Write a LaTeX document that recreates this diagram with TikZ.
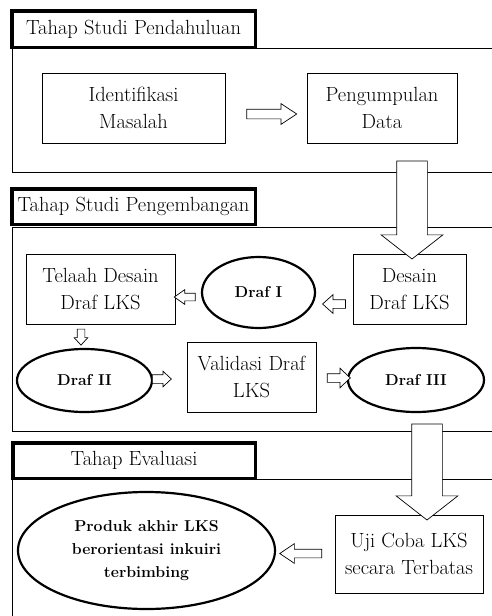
\documentclass[tikz,border=0pt]{standalone}
\usetikzlibrary{shapes.geometric,shapes.arrows}

\begin{document}
\begin{tikzpicture}[x=1pt,y=-1pt,
  frame/.style={line width=0.8pt},
  titlebox/.style={draw, fill=white, line width=3.5pt, inner sep=0pt,
    font=\fontsize{20.5}{27}\selectfont},
  box/.style={draw, fill=white, line width=0.8pt, inner sep=0pt, align=center,
    font=\fontsize{20.5}{27}\selectfont},
  oval/.style={ellipse, draw, fill=white, line width=2.2pt, inner sep=0pt, align=center,
    font=\fontsize{15.8}{23}\selectfont\bfseries},
  hollow/.style={single arrow, draw, fill=white, line width=0.7pt}]
\useasboundingbox (0,0) rectangle (492,616);

% the three frames
\draw[frame] (500,48) -- (12,48) -- (12,172) -- (500,172);
\draw[frame] (500,227) -- (12,227) -- (12,431) -- (500,431);
\draw[frame] (500,479) -- (12,479) -- (12,630);

\node[titlebox, minimum width=243.5pt, minimum height=36.5pt] (tahapA) at (133.5,29) {Tahap Studi Pendahuluan};
\node[titlebox, minimum width=243.5pt, minimum height=35.5pt] (tahapB) at (133.5,206.5) {Tahap Studi Pengembangan};
\node[titlebox, minimum width=242.5pt, minimum height=35.5pt] (tahapC) at (134,460.5) {Tahap Evaluasi};

% studi pendahuluan
\node[box, minimum width=183pt, minimum height=70pt] (identifikasi) at (133.5,108) {Identifikasi\\Masalah};
\node[box, minimum width=150pt, minimum height=70pt] (pengumpulan) at (382,108) {Pengumpulan\\Data};
\node[hollow, inner sep=4.5pt, single arrow head extend=5.5pt, single arrow tip angle=67,
  minimum height=50pt, minimum width=20pt] (arA) at (268,114) {};

% studi pengembangan
\node[box, minimum width=113pt, minimum height=70pt] (desain) at (409.5,289) {Desain\\Draf LKS};
\node[box, minimum width=149pt, minimum height=70pt] (telaah) at (100.5,289) {Telaah Desain\\Draf LKS};
\node[oval, minimum width=113pt, minimum height=71pt] (drafI) at (258.5,292.5) {Draf I};
\node[box, minimum width=129pt, minimum height=70pt] (validasi) at (251.5,377) {Validasi Draf\\LKS};
\node[oval, minimum width=135pt, minimum height=63pt] (drafII) at (84.5,380.5) {Draf II};
\node[oval, minimum width=136pt, minimum height=64pt] (drafIII) at (416,380) {Draf III};

\node[hollow, shape border rotate=180, inner sep=4pt, single arrow head extend=5pt,
  single arrow tip angle=84, minimum height=23pt, minimum width=18pt] (arB) at (336.5,304) {};
\node[hollow, shape border rotate=180, inner sep=3.5pt, single arrow head extend=3.5pt,
  single arrow tip angle=70, minimum height=21pt, minimum width=14pt] (arC) at (187.5,297) {};
\node[hollow, shape border rotate=270, inner sep=3.5pt, single arrow head extend=3pt,
  single arrow tip angle=85, minimum height=16pt, minimum width=13pt] (arD) at (81,335) {};
\node[hollow, inner sep=4pt, single arrow head extend=3.5pt, single arrow tip angle=86,
  minimum height=19pt, minimum width=15pt] (arE) at (159.5,379) {};
\node[hollow, inner sep=4pt, single arrow head extend=5.5pt, single arrow tip angle=87,
  minimum height=23pt, minimum width=19pt] (arF) at (336.5,378) {};

% evaluasi
\node[box, minimum width=148pt, minimum height=78pt] (uji) at (409,554) {Uji Coba LKS\\secara Terbatas};
\node[oval, minimum width=257pt, minimum height=117pt] (produk) at (146.5,550.5)
  {Produk akhir LKS\\berorientasi inkuiri\\terbimbing};
\node[hollow, shape border rotate=180, inner sep=4pt, single arrow head extend=5.5pt,
  single arrow tip angle=68, minimum height=42pt, minimum width=19pt] (arG) at (304,553.5) {};

% the big arrows between the stages
\node[hollow, shape border rotate=270, inner sep=15pt, single arrow head extend=15.5pt,
  single arrow tip angle=104, minimum height=98pt, minimum width=61pt] (turunA) at (412,204) {};
\node[hollow, shape border rotate=270, inner sep=15pt, single arrow head extend=15.5pt,
  single arrow tip angle=104, minimum height=96pt, minimum width=61pt] (turunB) at (427,466) {};
\end{tikzpicture}
\end{document}
